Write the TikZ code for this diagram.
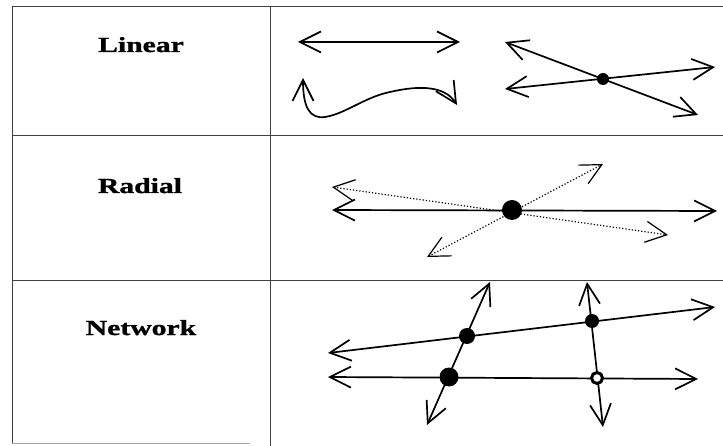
\documentclass[tikz,border=0pt]{standalone}
\usepackage{fontspec}
\setmainfont{Liberation Serif}
\newfontfamily\labfont[FakeStretch=1.38,FakeBold=1.2]{Liberation Serif}
\usetikzlibrary{arrows.meta}
\begin{document}
\begin{tikzpicture}[x=1pt,y=-1pt,
  gridline/.style={line width=0.8pt, black!75},
  faintline/.style={line width=0.8pt, black!35},
  barb/.tip={Straight Barb[length=21pt,width=21pt]},
  arr/.style={line width=1.7pt, barb-barb, line join=round},
  dotarr/.style={line width=1.2pt, dash pattern=on 1.2pt off 2pt, barb-barb},
  blob/.style={circle, fill=black, inner sep=0pt},
  ring/.style={circle, draw=black, fill=white, line width=3pt, inner sep=0pt, minimum size=11pt},
  lab/.style={anchor=base, font=\labfont\bfseries\fontsize{21.5}{26}\selectfont}]
\useasboundingbox (0,0) rectangle (723,446);
% table
\draw[gridline] (12,6) -- (723,6);
\draw[gridline] (12,6) -- (12,443);
\draw[gridline] (270,6) -- (270,446);
\draw[gridline] (12,135) -- (723,135);
\draw[gridline] (12,280) -- (723,280);
\draw[faintline] (12,443) -- (250,443);
% labels
\node[lab] (linear) at (141,52) {Linear};
\node[lab] (radial) at (140,193) {Radial};
\node[lab] (network) at (141,335) {Network};
% Linear row
\coordinate (a1) at (298,42); \coordinate (a2) at (460,42);
\draw[arr] (a1) -- (a2);
\coordinate (w1) at (303,78); \coordinate (w2) at (457,105);
\draw[arr] (w1) .. controls (303,108) and (310,119) .. (325,117)
  .. controls (345,114) and (365,97) .. (390,92)
  .. controls (420,85) and (445,86) .. (w2);
\coordinate (b1) at (505,42); \coordinate (b2) at (698,115);
\coordinate (c1) at (505,89); \coordinate (c2) at (715,67);
\draw[arr] (b1) -- (b2);
\draw[arr] (c1) -- (c2);
\node[blob, minimum size=12pt] (xdot) at (603,79) {};
% Radial row
\coordinate (r1) at (332,210); \coordinate (r2) at (717,211);
\coordinate (d1) at (332,187); \coordinate (d2) at (668,235);
\coordinate (e1) at (427,257); \coordinate (e2) at (603,164);
\draw[arr] (r1) -- (r2);
\draw[dotarr] (d1) -- (d2);
\draw[dotarr] (e1) -- (e2);
\node[blob, minimum size=20pt] (rdot) at (512,210) {};
% Network row
\coordinate (u1) at (328,353); \coordinate (u2) at (715,307);
\coordinate (l1) at (328,377); \coordinate (l2) at (698,379);
\coordinate (s1) at (490,282); \coordinate (s2) at (427,425);
\coordinate (v1) at (587,282); \coordinate (v2) at (603,427);
\draw[arr] (u1) -- (u2);
\draw[arr] (l1) -- (l2);
\draw[arr] (s1) -- (s2);
\draw[arr] (v1) -- (v2);
\node[blob, minimum size=16pt] (n1) at (467,336) {};
\node[blob, minimum size=14pt] (n2) at (592,321) {};
\node[blob, minimum size=19pt] (n3) at (449,377) {};
\node[ring] (n4) at (597,378) {};
\end{tikzpicture}
\end{document}
